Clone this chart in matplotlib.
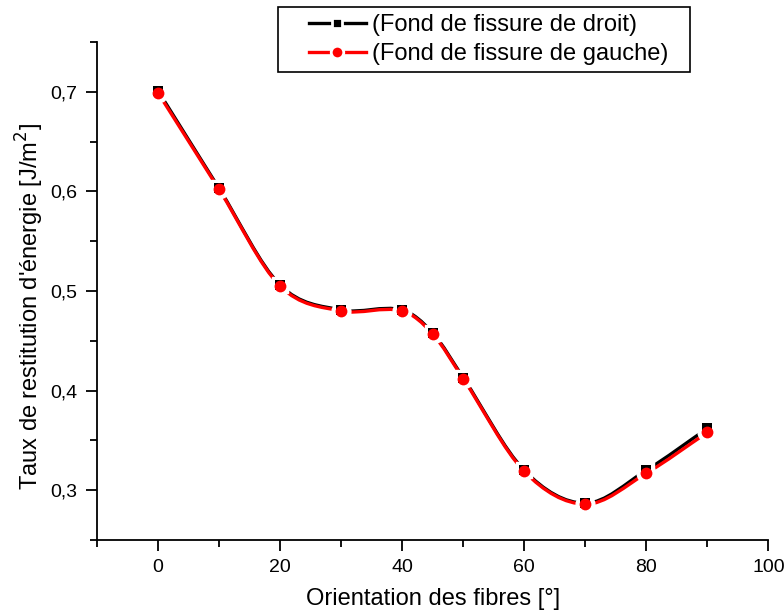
import matplotlib.pyplot as plt
import numpy as np
from matplotlib.path import Path
from matplotlib.patches import PathPatch, Rectangle
from matplotlib.lines import Line2D
from matplotlib.ticker import MultipleLocator, FuncFormatter

plt.rcParams['font.family'] = ['Liberation Sans', 'DejaVu Sans']

angles = [0, 10, 20, 30, 40, 45, 50, 60, 70, 80, 90]
g_droit = [0.701, 0.603, 0.506, 0.481, 0.481, 0.458, 0.413, 0.320, 0.287, 0.320, 0.362]
g_gauche = [0.699, 0.602, 0.505, 0.480, 0.480, 0.457, 0.412, 0.319, 0.286, 0.317, 0.358]

label_droit = "(Fond de fissure de droit)"
label_gauche = "(Fond de fissure de gauche)"


def smooth_path(x, y):
    # Catmull-Rom through the points, drawn as cubic Bezier segments
    x = np.asarray(x, float)
    y = np.asarray(y, float)
    verts = [(x[0], y[0])]
    codes = [Path.MOVETO]
    n = len(x)
    for i in range(n - 1):
        i0 = max(i - 1, 0)
        i3 = min(i + 2, n - 1)
        h = x[i + 1] - x[i]
        d1 = (y[i + 1] - y[i0]) / (x[i + 1] - x[i0])
        d2 = (y[i3] - y[i]) / (x[i3] - x[i])
        verts += [(x[i] + h / 3, y[i] + d1 * h / 3),
                  (x[i + 1] - h / 3, y[i + 1] - d2 * h / 3),
                  (x[i + 1], y[i + 1])]
        codes += [Path.CURVE4] * 3
    return Path(verts, codes)


fig = plt.figure(figsize=(7.84, 6.14), dpi=100)
ax = fig.add_axes([0.1237, 0.1205, 0.8563, 0.8111])

series = [(g_droit, 'black', 's', 7), (g_gauche, 'red', 'o', 8.5)]
for ys, color, marker, ms in series:
    ax.add_patch(PathPatch(smooth_path(angles, ys), facecolor='none',
                           edgecolor=color, lw=2.4, capstyle='butt', zorder=2))
# white halo under the markers cuts the lines, as in Origin
for ys, color, marker, ms in series:
    ax.plot(angles, ys, linestyle='none', marker=marker, ms=ms + 5, color='white',
            mec='white', zorder=3)
for ys, color, marker, ms in series:
    ax.plot(angles, ys, linestyle='none', marker=marker, ms=ms, color=color,
            mec=color, mew=0, zorder=4)

ax.set_xlim(-10, 100)
ax.set_ylim(0.25, 0.75)
ax.xaxis.set_major_locator(MultipleLocator(20))
ax.xaxis.set_minor_locator(MultipleLocator(10))
ax.yaxis.set_major_locator(MultipleLocator(0.1))
ax.yaxis.set_minor_locator(MultipleLocator(0.05))
ax.yaxis.set_major_formatter(FuncFormatter(lambda v, p: f"{v:.1f}".replace('.', ',')))

for s in ['top', 'right']:
    ax.spines[s].set_visible(False)
for s in ['left', 'bottom']:
    ax.spines[s].set_linewidth(1.3)
ax.tick_params(which='major', direction='out', length=8, width=1.3, labelsize=14, pad=6)
ax.tick_params(which='minor', direction='out', length=5, width=1.3)

ax.set_xlabel("Orientation des fibres [°]", fontsize=17, labelpad=8)
ax.set_ylabel("Taux de restitution d'énergie [J/m$^2$]", fontsize=17, labelpad=3)
ax.yaxis.label.set_y(0.468)

handles = [Line2D([], [], color='black', lw=2.4, marker='s', ms=7.5, mec='white', mew=2),
           Line2D([], [], color='red', lw=2.4, marker='o', ms=9, mec='white', mew=2)]
leg = fig.legend(handles, [label_droit, label_gauche], loc='upper left',
                 bbox_to_anchor=(0.379, 0.996), fontsize=17, frameon=False,
                 handlelength=2.4, handletextpad=0.25, labelspacing=0.3,
                 borderpad=0)
leg.set_zorder(6)
fig.patches.append(Rectangle((278 / 784, 1 - 72 / 614), 412 / 784, 65 / 614,
                             transform=fig.transFigure, facecolor='white',
                             edgecolor='black', lw=1.2, zorder=3))

fig.savefig("out.png", dpi=100)
